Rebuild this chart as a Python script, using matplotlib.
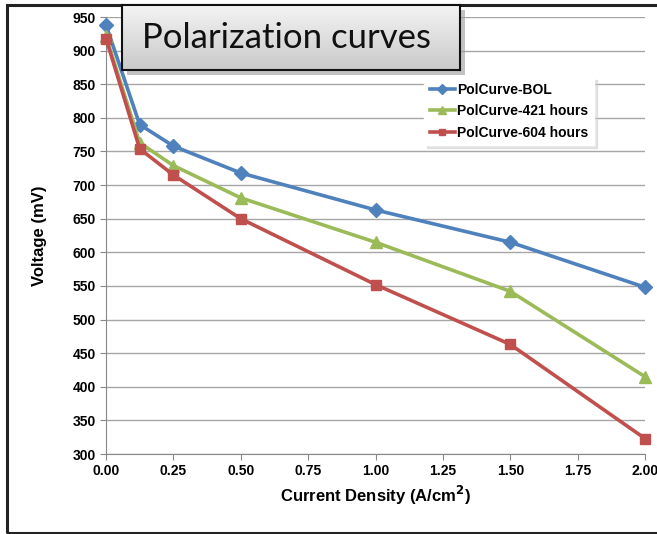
import matplotlib
matplotlib.use("Agg")
import matplotlib.pyplot as plt
from matplotlib.patches import Rectangle
import numpy as np

# polarization data, current density in A/cm2, voltage in mV
current = [0.0, 0.125, 0.25, 0.5, 1.0, 1.5, 2.0]
v_bol = [938, 790, 758, 718, 663, 615, 548]
v_421 = [921, 763, 729, 681, 615, 542, 415]
v_604 = [918, 754, 715, 650, 552, 463, 323]

series = [
    ("PolCurve-BOL", v_bol, "#4F81BD", "D", 7),
    ("PolCurve-421 hours", v_421, "#9BBB59", "^", 8),
    ("PolCurve-604 hours", v_604, "#C0504D", "s", 7),
]

plt.rcParams["font.family"] = ["Liberation Sans", "DejaVu Sans"]

fig = plt.figure(figsize=(6.57, 5.34), dpi=100)
W, H = 657, 534

# outer chart frame
fig.patches.append(Rectangle((7 / W, 1 / H), 660 / W, 528 / H, transform=fig.transFigure,
                             fill=False, edgecolor="#222222", linewidth=2.2))

ax = fig.add_axes([106 / W, 1 - 454 / H, 539 / W, 437 / H])
for name, vals, col, mk, ms in series:
    ax.plot(current, vals, color=col, marker=mk, markersize=ms, linewidth=2.6,
            label=name, clip_on=False, zorder=3)

ax.set_xlim(0, 2.0)
ax.set_ylim(300, 950)
ax.set_xticks(np.arange(0, 2.01, 0.25))
ax.set_yticks(np.arange(300, 951, 50))
ax.set_xticklabels(["%.2f" % t for t in np.arange(0, 2.01, 0.25)])
ax.tick_params(axis="both", labelsize=10, direction="out", length=4, color="#888888")
for lab in ax.get_xticklabels() + ax.get_yticklabels():
    lab.set_fontweight("bold")
ax.yaxis.grid(True, color="#a6a6a6", linewidth=1)
ax.set_axisbelow(True)
for s in ["top", "right"]:
    ax.spines[s].set_visible(False)
ax.spines["left"].set_color("#888888")
ax.spines["bottom"].set_color("#888888")

ax.set_xlabel("Current Density (A/cm$^\\mathbf{2}$)", fontsize=12, fontweight="bold", labelpad=4)
ax.set_ylabel("Voltage (mV)", fontsize=12, fontweight="bold", labelpad=18)

leg = ax.legend(loc="upper left", bbox_to_anchor=((417 - 106) / 539, (454 - 70) / 437),
                fontsize=10, frameon=True, fancybox=False, shadow={"shade": 0.2},
                handlelength=1.8, handletextpad=0.2, borderpad=0.4, labelspacing=0.55,
                markerscale=0.7)
leg.get_frame().set_edgecolor("white")
for t in leg.get_texts():
    t.set_fontweight("bold")

# title box with shadow and gray fill
fig.patches.append(Rectangle((127 / W, 1 - 75 / H), 338 / W, 65 / H, transform=fig.transFigure,
                             facecolor="#9a9a9a", edgecolor="none", alpha=0.6, zorder=5))
grad = np.linspace(0, 1, 64).reshape(-1, 1)
tax = fig.add_axes([122 / W, 1 - 70 / H, 338 / W, 65 / H], zorder=6)
tax.imshow(grad, cmap=matplotlib.colors.LinearSegmentedColormap.from_list("g", ["#f4f4f4", "#c9c9c9"]),
           aspect="auto", extent=[0, 1, 0, 1])
tax.set_xticks([])
tax.set_yticks([])
for s in tax.spines.values():
    s.set_color("#111111")
    s.set_linewidth(1.5)
tax.text(0.06, 0.5, "Polarization curves", fontsize=25, ha="left", va="center",
         family=["Lato", "DejaVu Sans"], color="#111111")

fig.savefig("out.png", dpi=100)
